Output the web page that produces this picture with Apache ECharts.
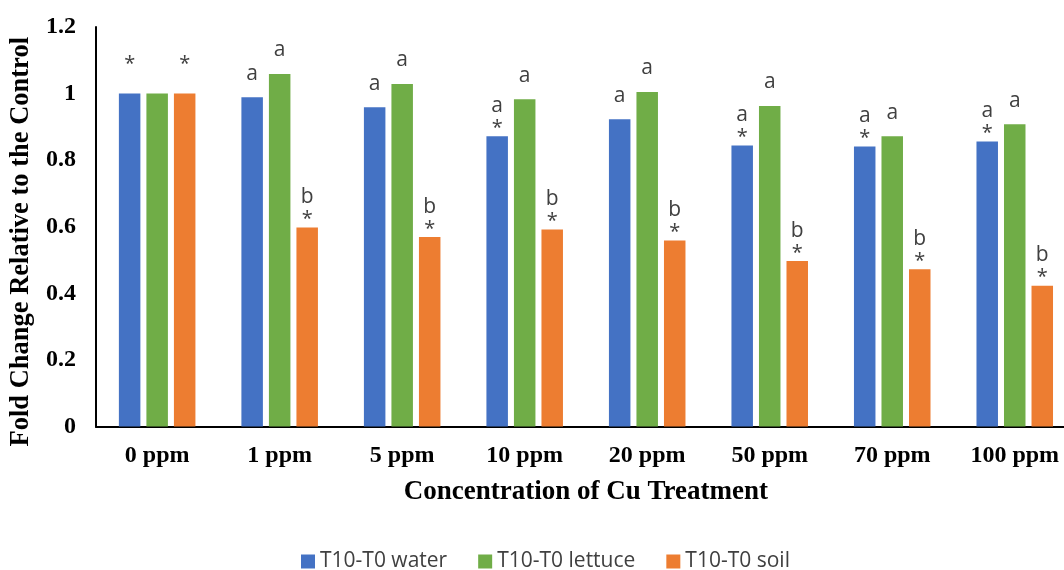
<!DOCTYPE html>
<html>
<head>
<meta charset="utf-8">
<script src="https://cdn.jsdelivr.net/npm/echarts@6/dist/echarts.min.js"></script>
<style>
html,body{margin:0;padding:0;background:#fff;overflow:hidden;width:1064px;height:570px;}
#chart{width:1076px;height:570px;}
</style>
</head>
<body>
<div id="chart"></div>
<script>
var categories = ['0 ppm','1 ppm','5 ppm','10 ppm','20 ppm','50 ppm','70 ppm','100 ppm'];
var seriesNames = ['T10-T0 water','T10-T0 lettuce','T10-T0 soil'];
var waterValues   = [1.00, 0.989, 0.959, 0.872, 0.923, 0.844, 0.841, 0.856];
var lettuceValues = [1.00, 1.059, 1.029, 0.983, 1.005, 0.963, 0.872, 0.908];
var soilValues    = [1.00, 0.598, 0.569, 0.592, 0.559, 0.497, 0.472, 0.423];
var waterLetters   = ['', 'a','a','a','a','a','a','a'];
var lettuceLetters = ['', 'a','a','a','a','a','a','a'];
var soilLetters    = ['', 'b','b','b','b','b','b','b'];
var waterStars   = [true, false,false,true,false,true,true,true];
var lettuceStars = [false,false,false,false,false,false,false,false];
var soilStars    = [true, true,true,true,true,true,true,true];
var yTicks = [0, 0.2, 0.4, 0.6, 0.8, 1, 1.2];

var colors = ['#4472C4','#70AD47','#ED7D31'];
var serif = '"Liberation Serif","Times New Roman",serif';
var sans = '"Open Sans","Noto Sans",sans-serif';

function buildData(values, letters, stars){
  return values.map(function(v, i){
    var letter = letters[i], star = stars[i];
    var text = '', dist = 0;
    if (letter && star) { text = '{l|' + letter + '}\n{s|*}'; dist = 0; }
    else if (letter) { text = '{l|' + letter + '}'; dist = 9; }
    else if (star) { text = '{s|*}'; dist = 21; }
    return {
      value: v,
      label: { show: !!text, formatter: text, distance: dist }
    };
  });
}

var richStyle = {
  l: { fontFamily: sans, fontSize: 21, color: '#404040', lineHeight: 29 },
  s: { fontFamily: sans, fontSize: 20, color: '#404040', lineHeight: 16 }
};

function makeSeries(name, values, letters, stars, color){
  return {
    name: name,
    type: 'bar',
    barWidth: 21.5,
    barGap: '28%',
    itemStyle: { color: color },
    label: { show: true, position: 'top', rich: richStyle },
    data: buildData(values, letters, stars)
  };
}

var chart = echarts.init(document.getElementById('chart'), null, {renderer: 'canvas'});
chart.setOption({
  animation: false,
  color: colors,
  grid: { left: 94, right: 0, top: 27, bottom: 143.5, containLabel: false },
  legend: {
    data: seriesNames,
    top: 546,
    left: 296,
    icon: 'rect',
    itemWidth: 14,
    itemHeight: 14,
    itemGap: 31,
    textStyle: { fontFamily: sans, fontSize: 21, color: '#404040' }
  },
  xAxis: {
    type: 'category',
    data: categories,
    name: 'Concentration of Cu Treatment',
    nameLocation: 'middle',
    nameGap: 52,
    nameTextStyle: { fontFamily: serif, fontWeight: 'bold', fontSize: 27, color: '#000' },
    axisLine: { lineStyle: { color: '#000', width: 2 } },
    axisTick: { show: false },
    axisLabel: { fontFamily: serif, fontWeight: 'bold', fontSize: 24, color: '#000', margin: 17 }
  },
  yAxis: {
    type: 'value',
    min: yTicks[0],
    max: yTicks[yTicks.length - 1],
    interval: 0.2,
    name: 'Fold Change Relative to the Control',
    nameLocation: 'middle',
    nameGap: 58,
    nameTextStyle: { fontFamily: serif, fontWeight: 'bold', fontSize: 26.5, color: '#000', padding: [0, 30, 0, 0] },
    axisLine: { show: true, lineStyle: { color: '#000', width: 2 } },
    axisTick: { show: false },
    splitLine: { show: false },
    axisLabel: {
      fontFamily: serif, fontWeight: 'bold', fontSize: 24, color: '#000', margin: 20,
      formatter: function(v){ return String(Math.round(v * 10) / 10); }
    }
  },
  series: [
    makeSeries(seriesNames[0], waterValues, waterLetters, waterStars, colors[0]),
    makeSeries(seriesNames[1], lettuceValues, lettuceLetters, lettuceStars, colors[1]),
    makeSeries(seriesNames[2], soilValues, soilLetters, soilStars, colors[2])
  ]
});
</script>
</body>
</html>
